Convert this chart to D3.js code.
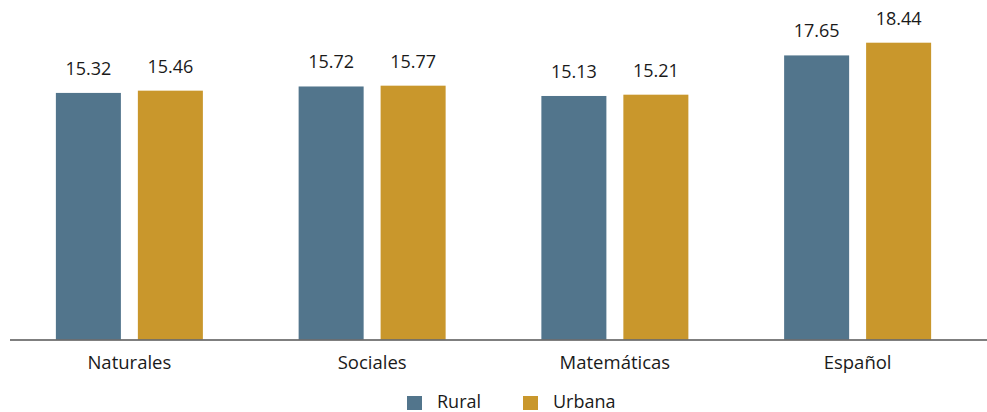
<!DOCTYPE html>
<html>
<head>
<meta charset="utf-8">
<script src="https://cdn.jsdelivr.net/npm/d3@7"></script>
<style>
  body { margin: 0; background: #fff; }
  svg { display: block; }
  text { font-family: "Open Sans", "Noto Sans", sans-serif; fill: #1a1a1a; }
</style>
</head>
<body>
<svg id="chart" width="987" height="412"></svg>
<script>
// Average scores by subject, rural vs urban schools
const categories = ["Naturales", "Sociales", "Matemáticas", "Español"];
const seriesNames = ["Rural", "Urbana"];
const rural = [15.32, 15.72, 15.13, 17.65];
const urbana = [15.46, 15.77, 15.21, 18.44];
const colors = ["#52758c", "#c9972c"];

const svg = d3.select("#chart");
const baseline = 339.5;
const topY = 42.7;

const y = d3.scaleLinear().domain([0, 18.44]).range([baseline, topY]);

const x0 = d3.scaleBand().domain(categories).range([8, 979]).padding(0);
const groupW = 147;
const x1 = d3.scaleBand().domain(seriesNames).range([0, groupW]).paddingInner(0.207).paddingOuter(0);

const rows = categories.map((c, i) => ({ cat: c, values: [rural[i], urbana[i]] }));

const groups = svg.selectAll("g.grp").data(rows).join("g")
  .attr("class", "grp")
  .attr("transform", d => `translate(${x0(d.cat) + (x0.bandwidth() - groupW) / 2},0)`);

groups.selectAll("rect").data(d => d.values.map((v, j) => ({ s: seriesNames[j], v, j })))
  .join("rect")
  .attr("x", d => x1(d.s))
  .attr("y", d => y(d.v))
  .attr("width", x1.bandwidth())
  .attr("height", d => baseline - y(d.v))
  .attr("fill", d => colors[d.j]);

groups.selectAll("text.val").data(d => d.values.map((v, j) => ({ s: seriesNames[j], v, j })))
  .join("text")
  .attr("class", "val")
  .attr("x", d => x1(d.s) + x1.bandwidth() / 2)
  .attr("y", d => y(d.v) - 18)
  .attr("text-anchor", "middle")
  .attr("font-size", 18)
  .text(d => d3.format(".2f")(d.v));

// Category axis
const axis = svg.append("g").attr("transform", `translate(0,${baseline})`);
axis.append("line").attr("x1", 10).attr("x2", 987).attr("y1", 0.5).attr("y2", 0.5)
  .attr("stroke", "#555").attr("stroke-width", 1.5);
axis.selectAll("text").data(categories).join("text")
  .attr("x", d => x0(d) + x0.bandwidth() / 2)
  .attr("y", 29.5)
  .attr("text-anchor", "middle")
  .attr("font-size", 18.5)
  .text(d => d);

// Legend
const legendItems = [{ name: "Rural", x: 407 }, { name: "Urbana", x: 523 }];
const lg = svg.selectAll("g.leg").data(legendItems).join("g")
  .attr("class", "leg")
  .attr("transform", d => `translate(${d.x},396)`);
lg.append("rect").attr("width", 15).attr("height", 14).attr("fill", (d, i) => colors[i]);
lg.append("text").attr("x", 30).attr("y", 11.5).attr("font-size", 18).text(d => d.name);
</script>
</body>
</html>
